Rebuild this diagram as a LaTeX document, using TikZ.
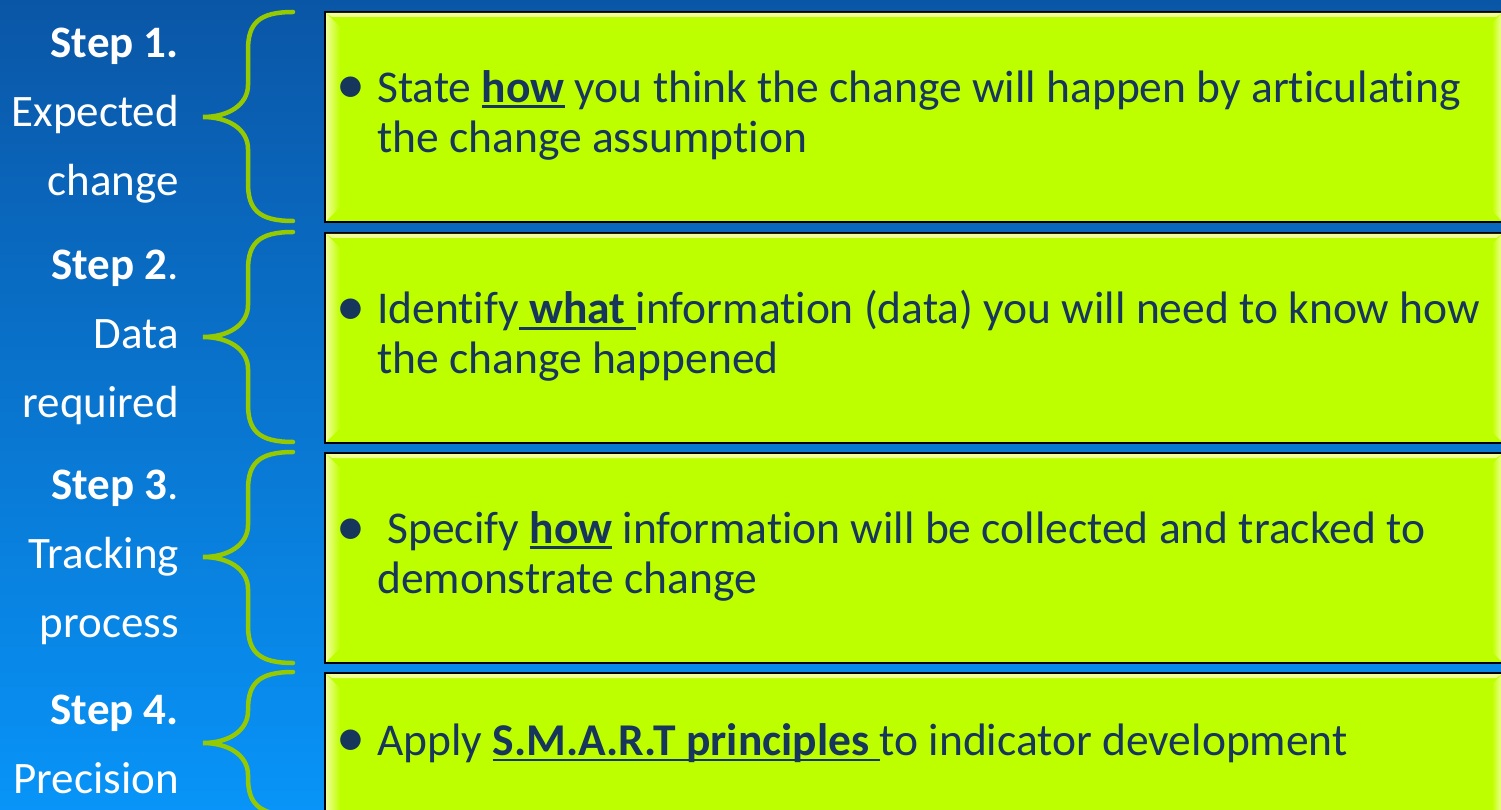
\documentclass[tikz,border=0pt]{standalone}
\usepackage{fontspec}
\setmainfont[Ligatures=NoCommon]{Carlito}
\usetikzlibrary{calc}
\definecolor{bgtop}{RGB}{10,86,166}
\definecolor{bgbottom}{RGB}{8,148,248}
\definecolor{lime}{RGB}{190,255,0}
\definecolor{bevel}{RGB}{242,255,150}
\definecolor{bracegreen}{RGB}{150,202,0}
\definecolor{navy}{RGB}{22,54,92}
% bold underline with a heavier rule
\newcommand{\thickul}[1]{\setbox0=\hbox{#1}\rlap{\rule[-6pt]{\wd0}{2.6pt}}\box0\relax}
\tikzstyle{stepbox}=[draw=black, line width=2pt, fill=lime, minimum width=1178pt, minimum height=210pt, anchor=north west, inner sep=0pt]
\tikzstyle{steplabel}=[text=white, font=\fontsize{45}{69}\selectfont, align=right, anchor=east, inner sep=0pt]
\tikzstyle{boxtext}=[text=navy, font=\fontsize{45.5}{50}\selectfont, align=left, anchor=west, inner sep=0pt]
\tikzstyle{dot}=[text=navy, font=\fontsize{58}{58}\selectfont, anchor=center, inner sep=0pt]
\tikzstyle{curly}=[draw=bracegreen, line width=4.5pt, line cap=round]

\begin{document}
\begin{tikzpicture}[x=1pt, y=-1pt]
    % background and page frame
    \shade[top color=bgtop, bottom color=bgbottom] (0,0) rectangle (1501,810);
    \useasboundingbox (0,0) rectangle (1501,810);
    \clip (0,0) rectangle (1501,810);

    % the four boxes with a light bevel on the left and right
    \foreach \ytop/\name in {11/box1, 232/box2, 452/box3, 672/box4} {
        \node[stepbox] (\name) at (324,\ytop) {};
        \shade[left color=bevel, right color=lime]
            ($(\name.north west)+(2,2)$) -- ($(\name.north west)+(16,16)$) -- ($(\name.south west)+(16,-16)$) -- ($(\name.south west)+(2,-2)$) -- cycle;
        \shade[left color=lime, right color=bevel]
            ($(\name.north east)+(-2,2)$) -- ($(\name.north east)+(-12,12)$) -- ($(\name.south east)+(-12,-12)$) -- ($(\name.south east)+(-2,-2)$) -- cycle;
        \fill[bevel] ($(\name.north west)+(2,2)$) -- ($(\name.north east)+(-2,2)$) -- ($(\name.north east)+(-8,6)$) -- ($(\name.north west)+(8,6)$) -- cycle;
    }

    % braces
    \foreach \ytop/\ymid/\ybot in {12/117/221, 232/337/442, 452/557/663, 672/743/815}
        \draw[curly] (293,\ytop) .. controls (258,\ytop) and (248,\ytop+12) .. (248,\ytop+38)
            -- (248,\ymid-32) .. controls (248,\ymid-12) and (228,\ymid) .. (203,\ymid)
            .. controls (228,\ymid) and (248,\ymid+12) .. (248,\ymid+32)
            -- (248,\ybot-38) .. controls (248,\ybot-12) and (258,\ybot) .. (293,\ybot);

    % step labels
    \node[steplabel] (step1) at (179,116) {\textbf{Step 1.}\\Expected\\change};
    \node[steplabel] (step2) at (179,337) {\textbf{Step 2}.\\Data\\required};
    \node[steplabel] (step3) at (179,557) {\textbf{Step 3}.\\Tracking\\process};
    \node[steplabel] (step4) at (179,744) {\textbf{Step 4.}\\Precision};

    % bullets and texts
    \foreach \y/\name in {90/dot1, 312/dot2, 532/dot3, 743/dot4}
        \node[dot] (\name) at (351,\y) {\textbullet};
    \node[boxtext] (text1) at (377,115) {State \thickul{\textbf{how}} you think the change will happen by articulating\\the change assumption};
    \node[boxtext] (text2) at (377,336) {Identify\thickul{\ \textbf{what}\ }information (data) you will need to know how\\the change happened};
    \node[boxtext] (text3) at (377,556) {\ Specify \thickul{\textbf{how}} information will be collected and tracked to\\demonstrate change};
    \node[boxtext] (text4) at (377,743) {Apply \thickul{\textbf{S.M.A.R.T principles}\ }to indicator development};
\end{tikzpicture}
\end{document}
